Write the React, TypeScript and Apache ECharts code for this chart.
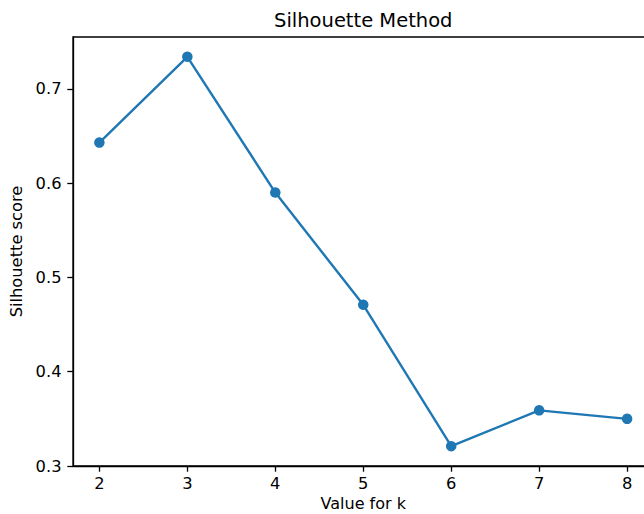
import React, { useEffect, useRef } from "react";
import * as echarts from "echarts";

// Number of clusters tried and the silhouette score obtained for each
const kValues = [2, 3, 4, 5, 6, 7, 8];
const silhouetteScores = [0.643, 0.734, 0.59, 0.471, 0.321, 0.359, 0.35];

// Tick positions on both axes
const xTicks = [2, 3, 4, 5, 6, 7, 8];
const yTicks = [0.3, 0.4, 0.5, 0.6, 0.7];

const FONT = "DejaVu Sans";
const INK = "#000";

export default function App() {
  const ref = useRef<HTMLDivElement>(null);

  useEffect(() => {
    if (!ref.current) return;
    const chart = echarts.init(ref.current, undefined, { renderer: "svg" });

    const left = 73;
    const top = 37;
    const plotW = 580.5;
    const plotH = 429;

    chart.setOption({
      animation: false,
      backgroundColor: "#fff",
      textStyle: { fontFamily: FONT },
      grid: {
        left,
        top,
        width: plotW,
        height: plotH,
        outerBoundsMode: "none",
        containLabel: false,
        show: true,
        borderColor: INK,
        borderWidth: 1.3,
        backgroundColor: "transparent",
      },
      graphic: [
        {
          type: "text",
          x: left + plotW / 2,
          y: 20,
          style: {
            text: "Silhouette Method",
            fontFamily: FONT,
            fontSize: 19.5,
            fill: INK,
            align: "center",
            verticalAlign: "middle",
          },
        },
      ],
      xAxis: {
        type: "value",
        min: 1.7,
        max: 8.3,
        name: "Value for k",
        nameLocation: "middle",
        nameGap: 31,
        nameTextStyle: {
          fontFamily: FONT,
          fontSize: 16,
          lineHeight: 13,
          color: INK,
        },
        splitLine: { show: false },
        axisLine: { show: true, lineStyle: { color: INK, width: 1.3 } },
        axisTick: {
          show: true,
          length: 5.7,
          lineStyle: { color: INK, width: 1.3 },
          customValues: xTicks,
        },
        axisLabel: {
          fontFamily: FONT,
          fontSize: 16.3,
          color: INK,
          margin: 9,
          customValues: xTicks,
          formatter: (v: number) => String(v),
        },
      },
      yAxis: {
        type: "value",
        min: 0.3,
        max: 0.755,
        name: "Silhouette score",
        nameLocation: "middle",
        nameGap: 45.5,
        nameRotate: 90,
        nameTextStyle: { fontFamily: FONT, fontSize: 16.3, color: INK },
        splitLine: { show: false },
        axisLine: { show: true, lineStyle: { color: INK, width: 1.3 } },
        axisTick: {
          show: true,
          length: 5.7,
          lineStyle: { color: INK, width: 1.3 },
          customValues: yTicks,
        },
        axisLabel: {
          fontFamily: FONT,
          fontSize: 16.3,
          color: INK,
          margin: 11.5,
          customValues: yTicks,
          formatter: (v: number) => v.toFixed(1),
        },
      },
      series: [
        {
          type: "line",
          data: kValues.map((k, i) => [k, silhouetteScores[i]]),
          symbol: "circle",
          symbolSize: 10.5,
          showAllSymbol: true,
          lineStyle: { color: "#1f77b4", width: 2.4 },
          itemStyle: { color: "#1f77b4" },
          emphasis: { disabled: true },
        },
      ],
    });

    return () => chart.dispose();
  }, []);

  return (
    <div
      ref={ref}
      style={{
        position: "absolute",
        left: 0,
        top: 0,
        width: 644,
        height: 514,
        overflow: "hidden",
        background: "#fff",
      }}
    />
  );
}
